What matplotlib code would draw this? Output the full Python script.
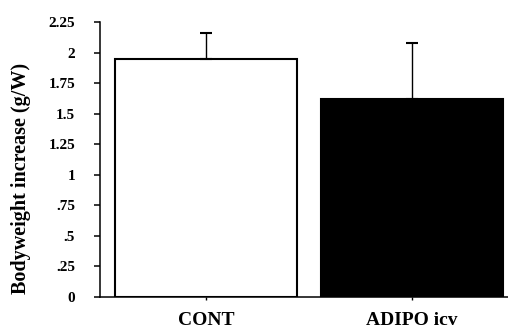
import matplotlib
matplotlib.use('Agg')
import matplotlib.pyplot as plt
import numpy as np

groups = ['CONT', 'ADIPO icv']
means = [1.95, 1.62]
errs = [0.21, 0.46]
bar_colors = ['white', 'black']
yticks = [0, 0.25, 0.5, 0.75, 1, 1.25, 1.5, 1.75, 2, 2.25]
ytick_labels = ['0', '.25', '.5', '.75', '1', '1.25', '1.5', '1.75', '2', '2.25']

plt.rcParams['font.family'] = 'Liberation Serif'
plt.rcParams['font.weight'] = 'bold'

fig = plt.figure(figsize=(5.08, 3.33), dpi=100)
ax = fig.add_axes([100/508., 1 - 297/333., 408/508., 275/333.])

x = np.arange(len(groups))
ax.bar(x, means, width=0.883, color=bar_colors, edgecolor='black', linewidth=1.5, zorder=2)
ax.errorbar(x, means, yerr=[np.zeros(len(errs)), errs], fmt='none', ecolor='black',
            elinewidth=1.0, capsize=4, capthick=1.5, zorder=3)

ax.set_xlim(-0.515, 1.466)
ax.set_ylim(0, 2.25)
ax.set_yticks(yticks)
ax.set_yticklabels(ytick_labels, fontsize=11, fontweight='bold')
ax.set_xticks(x)
ax.set_xticklabels(groups, fontsize=14, fontweight='bold')

ax.spines['top'].set_visible(False)
ax.spines['right'].set_visible(False)
ax.spines['left'].set_linewidth(1.1)
ax.spines['bottom'].set_linewidth(1.1)
ax.tick_params(axis='y', direction='out', length=4, width=1.1, pad=14)
ax.tick_params(axis='x', direction='out', length=2, width=1.0, pad=9)

ax.set_ylabel('Bodyweight increase (g/W)', fontsize=14.5, fontweight='bold')
ax.yaxis.set_label_coords(-0.17, 0.43)

fig.savefig('out.png', dpi=100)
